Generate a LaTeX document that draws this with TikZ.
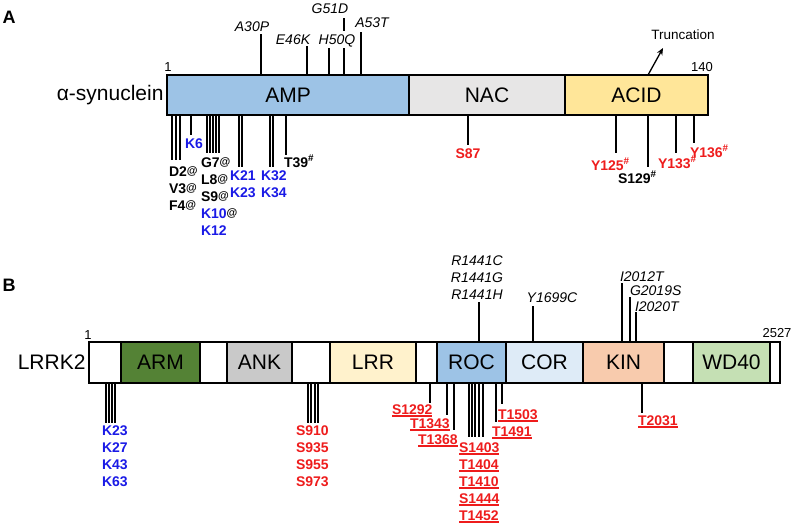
\documentclass[tikz,border=0pt]{standalone}
\usepackage{fontspec}
\setmainfont{Liberation Sans}
\usetikzlibrary{positioning,arrows.meta}

\definecolor{ampblue}{HTML}{9DC3E6}
\definecolor{nacgrey}{HTML}{E7E6E6}
\definecolor{acidyellow}{HTML}{FFE699}
\definecolor{armgreen}{HTML}{548235}
\definecolor{ankgrey}{HTML}{C9C9C9}
\definecolor{lrrcream}{HTML}{FFF2CC}
\definecolor{rocblue}{HTML}{9DC3E6}
\definecolor{corblue}{HTML}{DEEBF7}
\definecolor{kinpeach}{HTML}{F8CBAD}
\definecolor{wdgreen}{HTML}{C5E0B4}
\definecolor{sitered}{HTML}{EE1C1C}
\definecolor{siteblue}{HTML}{1A1AE6}

\newcommand{\atsup}{\raisebox{1.5pt}{\fontsize{11}{12}\selectfont @}}
\newcommand{\hashsup}{\textsuperscript{\#}}
\newcommand{\siteul}[1]{\setbox0\hbox{#1}\rlap{\rule[-2.5pt]{\wd0}{1.1pt}}\box0}

\begin{document}
\begin{tikzpicture}[x=1pt,y=-1pt,
	dom/.style={draw,line width=1.6pt,minimum height=40pt,inner sep=0pt,outer sep=0pt,
		font=\fontsize{21}{25}\selectfont},
	site/.style={line width=1.3pt},
	lab/.style={font=\fontsize{14}{17}\selectfont\bfseries,text height=10pt,text depth=0pt,
		inner xsep=0pt,inner ysep=3.5pt,outer sep=0pt},
	blab/.style={lab,text=siteblue},
	rlab/.style={lab,text=sitered},
	mut/.style={font=\fontsize{14}{17}\selectfont\itshape,text height=10pt,text depth=0pt,
		inner xsep=0pt,inner ysep=3.5pt,outer sep=0pt},
	num/.style={font=\fontsize{13}{15}\selectfont,inner sep=0pt}]

	\useasboundingbox (0,0) rectangle (800,527);

	% panel A: alpha-synuclein
	\node[font=\fontsize{18}{20}\selectfont\bfseries] (pa) at (9,17) {A};
	\node[dom,fill=ampblue,minimum width=242pt,anchor=west] (amp) at (167,95) {AMP};
	\node[dom,fill=nacgrey,minimum width=156pt,right=0pt of amp] (nac) {NAC};
	\node[dom,fill=acidyellow,minimum width=143pt,right=0pt of nac] (acid) {ACID};
	\node[font=\fontsize{21}{25}\selectfont,left=0pt of amp] (asyn) {α-synuclein};
	\node[num] (a1) at (168,67) {1};
	\node[num] (a140) at (702,67) {140};

	\draw[site] (261,0 |- amp.north) -- (261,34);
	\draw[site] (307,0 |- amp.north) -- (307,46);
	\draw[site] (329,0 |- amp.north) -- (329,46);
	\draw[site] (344,0 |- amp.north) -- (344,18);
	\draw[site] (361,0 |- amp.north) -- (361,32);
	\node[mut] (a30p) at (252,27) {A30P};
	\node[mut] (e46k) at (293,40) {E46K};
	\node[mut,fill=white] (h50q) at (337,40) {H50Q};
	\node[mut] (g51d) at (330,9) {G51D};
	\node[mut] (a53t) at (372,23) {A53T};

	\node[font=\fontsize{13.5}{15}\selectfont] (trunc) at (683,35) {Truncation};
	\draw[line width=1.3pt,-{Stealth[length=7pt,width=6pt]}] (648,0 |- acid.north) -- (663,48);

	\foreach \x in {172,176,180} \draw[site] (\x,0 |- amp.south) -- (\x,160);
	\draw[site] (191,0 |- amp.south) -- (191,135);
	\foreach \x in {207,210,213,216,219} \draw[site] (\x,0 |- amp.south) -- (\x,153);
	\foreach \x in {239,242,270,273} \draw[site] (\x,0 |- amp.south) -- (\x,167);
	\draw[site] (286,0 |- amp.south) -- (286,155);
	\draw[site] (468,0 |- nac.south) -- (468,145);
	\draw[site] (616,0 |- acid.south) -- (616,153);
	\draw[site] (648,0 |- acid.south) -- (648,167);
	\draw[site] (676,0 |- acid.south) -- (676,153);
	\draw[site] (694,0 |- acid.south) -- (694,143);

	\node[lab,anchor=west] (d2) at (169,171) {D2\atsup};
	\node[lab,anchor=north west] (v3) at (d2.south west) {V3\atsup};
	\node[lab,anchor=north west] (f4) at (v3.south west) {F4\atsup};
	\node[blab,anchor=west] (k6) at (185,143) {K6};
	\node[lab,anchor=west] (g7) at (201,162) {G7\atsup};
	\node[lab,anchor=north west] (l8) at (g7.south west) {L8\atsup};
	\node[lab,anchor=north west] (s9) at (l8.south west) {S9\atsup};
	\node[blab,anchor=north west] (k10) at (s9.south west) {K10{\color{black}\atsup}};
	\node[blab,anchor=north west] (k12) at (k10.south west) {K12};
	\node[blab,anchor=west] (k21) at (230,175) {K21};
	\node[blab,anchor=north west] (k23) at (k21.south west) {K23};
	\node[blab,anchor=west] (k32) at (261,175) {K32};
	\node[blab,anchor=north west] (k34) at (k32.south west) {K34};
	\node[lab,anchor=west] (t39) at (284,162) {T39\hashsup};
	\node[rlab] (s87) at (468,153) {S87};
	\node[rlab,anchor=west] (y125) at (591,165) {Y125\hashsup};
	\node[lab,anchor=west] (s129) at (618,178) {S129\hashsup};
	\node[rlab,anchor=west] (y133) at (658,163) {Y133\hashsup};
	\node[rlab,anchor=west] (y136) at (690,152) {Y136\hashsup};

	% panel B: LRRK2
	\node[font=\fontsize{18}{20}\selectfont\bfseries] (pb) at (9,285) {B};
	\node[dom,minimum height=41pt,fill=white,minimum width=32pt,anchor=west] (nterm) at (89,362.5) {};
	\node[dom,minimum height=41pt,fill=armgreen,minimum width=79pt,right=0pt of nterm] (arm) {ARM};
	\node[dom,minimum height=41pt,fill=white,minimum width=27pt,right=0pt of arm] (lnka) {};
	\node[dom,minimum height=41pt,fill=ankgrey,minimum width=65pt,right=0pt of lnka] (ank) {ANK};
	\node[dom,minimum height=41pt,fill=white,minimum width=38pt,right=0pt of ank] (lnkb) {};
	\node[dom,minimum height=41pt,fill=lrrcream,minimum width=86pt,right=0pt of lnkb] (lrr) {LRR};
	\node[dom,minimum height=41pt,fill=white,minimum width=21pt,right=0pt of lrr] (lnkc) {};
	\node[dom,minimum height=41pt,fill=rocblue,minimum width=69pt,right=0pt of lnkc] (roc) {ROC};
	\node[dom,minimum height=41pt,fill=corblue,minimum width=77pt,right=0pt of roc] (cor) {COR};
	\node[dom,minimum height=41pt,fill=kinpeach,minimum width=81pt,right=0pt of cor] (kin) {KIN};
	\node[dom,minimum height=41pt,fill=white,minimum width=29pt,right=0pt of kin] (lnkd) {};
	\node[dom,minimum height=41pt,fill=wdgreen,minimum width=77pt,right=0pt of lnkd] (wd) {WD40};
	\node[dom,minimum height=41pt,fill=white,minimum width=10pt,right=0pt of wd] (cterm) {};
	\node[font=\fontsize{21}{25}\selectfont,left=0pt of nterm] (lrrk) {LRRK2};
	\node[num] (b1) at (88,335) {1};
	\node[num] (b2527) at (777,333) {2527};

	\node[mut] (r1441c) at (477,260) {R1441C};
	\node[mut,anchor=north] (r1441g) at (r1441c.south) {R1441G};
	\node[mut,anchor=north] (r1441h) at (r1441g.south) {R1441H};
	\node[mut] (y1699c) at (552,297) {Y1699C};
	\node[mut,anchor=west] (i2012t) at (620,276) {I2012T};
	\node[mut,anchor=west] (g2019s) at (630,290) {G2019S};
	\node[mut,anchor=west] (i2020t) at (635,306) {I2020T};
	\draw[site] (479,0 |- roc.north) -- (479,302);
	\draw[site] (533,0 |- cor.north) -- (533,306);
	\draw[site] (622,0 |- kin.north) -- (622,283);
	\draw[site] (630,0 |- kin.north) -- (630,297);
	\draw[site] (636,0 |- kin.north) -- (636,312);

	\foreach \x in {106,109,112,115} \draw[site] (\x,0 |- nterm.south) -- (\x,423);
	\foreach \x in {308,311,315,318} \draw[site] (\x,0 |- lnkb.south) -- (\x,423);
	\draw[site] (430,0 |- lnkc.south) -- (430,403);
	\draw[site] (447,0 |- roc.south) -- (447,415);
	\draw[site] (454,0 |- roc.south) -- (454,430);
	\foreach \x in {469,472,475,479,483} \draw[site] (\x,0 |- roc.south) -- (\x,437);
	\draw[site] (496,0 |- roc.south) -- (496,422);
	\draw[site] (502,0 |- roc.south) -- (502,404);
	\draw[site] (642,0 |- kin.south) -- (642,413);

	\node[blab,anchor=west] (k23b) at (102,430) {K23};
	\node[blab,anchor=north west] (k27) at (k23b.south west) {K27};
	\node[blab,anchor=north west] (k43) at (k27.south west) {K43};
	\node[blab,anchor=north west] (k63) at (k43.south west) {K63};
	\node[rlab,anchor=west] (s910) at (296,430) {S910};
	\node[rlab,anchor=north west] (s935) at (s910.south west) {S935};
	\node[rlab,anchor=north west] (s955) at (s935.south west) {S955};
	\node[rlab,anchor=north west] (s973) at (s955.south west) {S973};
	\node[rlab,anchor=west] (s1292) at (392,409) {\siteul{S1292}};
	\node[rlab,anchor=west] (t1343) at (410,423) {\siteul{T1343}};
	\node[rlab,anchor=west] (t1368) at (418,439) {\siteul{T1368}};
	\node[rlab,anchor=west] (s1403) at (459,447) {\siteul{S1403}};
	\node[rlab,anchor=north west] (t1404) at (s1403.south west) {\siteul{T1404}};
	\node[rlab,anchor=north west] (t1410) at (t1404.south west) {\siteul{T1410}};
	\node[rlab,anchor=north west] (s1444) at (t1410.south west) {\siteul{S1444}};
	\node[rlab,anchor=north west] (t1452) at (s1444.south west) {\siteul{T1452}};
	\node[rlab,anchor=west] (t1491) at (492,431) {\siteul{T1491}};
	\node[rlab,anchor=west] (t1503) at (498,414) {\siteul{T1503}};
	\node[rlab,anchor=west] (t2031) at (638,420) {\siteul{T2031}};
\end{tikzpicture}
\end{document}
